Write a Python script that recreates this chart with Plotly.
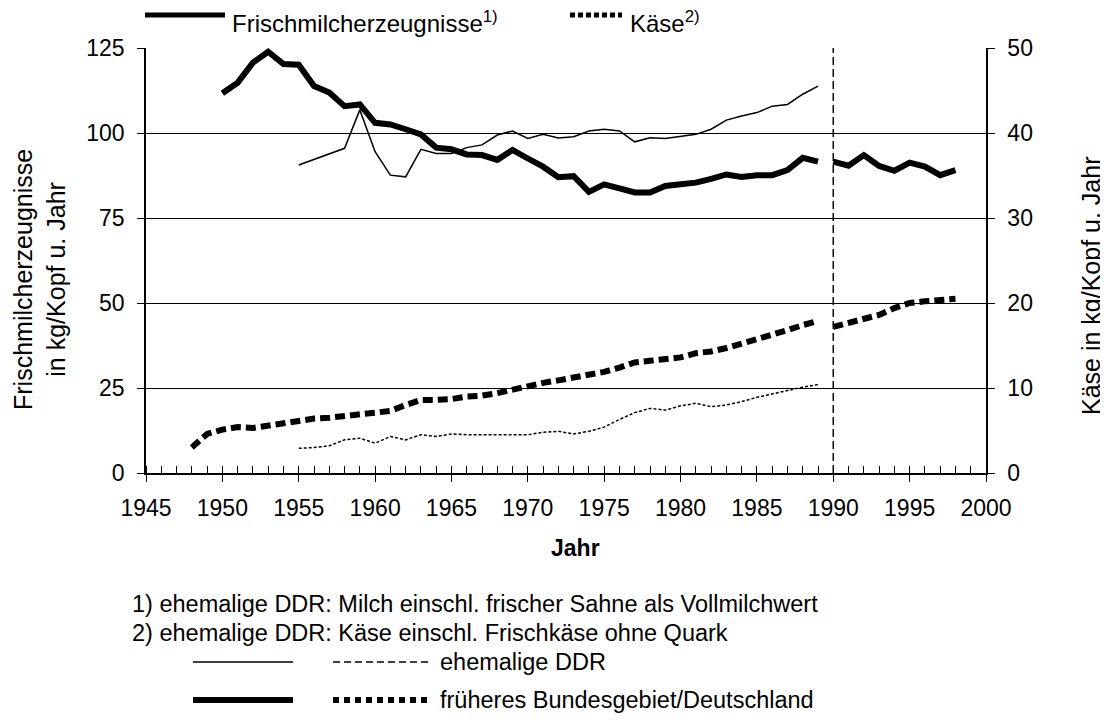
import plotly.graph_objects as go

# Frischmilcherzeugnisse, kg/Kopf u. Jahr
jahre_west_fm = list(range(1950, 1990))
west_fm = [111.7, 114.8, 120.7, 123.9, 120.3, 120.1, 113.8, 111.9, 107.9, 108.4,
           103.0, 102.5, 101.1, 99.6, 95.7, 95.2, 93.7, 93.5, 92.1, 95.0,
           92.5, 90.1, 87.0, 87.3, 82.7, 84.9, 83.7, 82.5, 82.5, 84.4,
           84.9, 85.4, 86.5, 87.8, 87.1, 87.6, 87.6, 89.1, 92.7, 91.6]
jahre_de_fm = list(range(1990, 1999))
de_fm = [91.6, 90.4, 93.5, 90.3, 88.9, 91.3, 90.1, 87.6, 89.1]
jahre_ddr_fm = [1955] + list(range(1958, 1990))
ddr_fm = [90.6, 95.5, 106.8, 94.5, 87.6, 87.1, 95.2, 94.0, 94.0, 95.7,
          96.5, 99.4, 100.6, 98.4, 99.6, 98.5, 98.9, 100.6, 101.1, 100.6,
          97.4, 98.6, 98.4, 98.9, 99.6, 101.1, 103.8, 105.0, 106.0, 107.9,
          108.4, 111.4, 113.8]

# Kaese, kg/Kopf u. Jahr
jahre_west_k = list(range(1948, 1990))
west_k = [3.0, 4.6, 5.1, 5.4, 5.3, 5.6, 5.9, 6.1, 6.4, 6.5,
          6.7, 6.9, 7.1, 7.3, 8.0, 8.6, 8.6, 8.7, 9.0, 9.1,
          9.4, 9.8, 10.3, 10.6, 10.9, 11.2, 11.6, 11.9, 12.4, 13.0,
          13.2, 13.4, 13.6, 14.1, 14.3, 14.7, 15.2, 15.7, 16.2, 16.8,
          17.4, 17.9]
jahre_de_k = list(range(1990, 1999))
de_k = [17.2, 17.7, 18.1, 18.6, 19.4, 20.0, 20.2, 20.4, 20.5]
jahre_ddr_k = list(range(1955, 1990))
ddr_k = [2.9, 3.0, 3.2, 3.9, 4.1, 3.5, 4.3, 3.9, 4.5, 4.3,
         4.6, 4.5, 4.5, 4.5, 4.5, 4.5, 4.8, 4.9, 4.6, 4.9,
         5.4, 6.3, 7.1, 7.6, 7.4, 7.9, 8.2, 7.8, 8.0, 8.4,
         8.9, 9.3, 9.7, 10.1, 10.4]

FONT = "Liberation Sans, Arial, sans-serif"
FS_TICK = 23
FS_TEXT = 24
FS_TITLE = 25

# plot area in page pixels: x 146..986, y 48..473 (page has an 8px body margin)
def px(x):
    return (x - 146) / 840

def py(y):
    return (473 - y) / 425

fig = go.Figure()
fig.add_trace(go.Scatter(x=jahre_ddr_fm, y=ddr_fm, mode='lines',
                         line=dict(color='black', width=1.5)))
fig.add_trace(go.Scatter(x=jahre_west_fm, y=west_fm, mode='lines',
                         line=dict(color='black', width=6)))
fig.add_trace(go.Scatter(x=jahre_de_fm, y=de_fm, mode='lines',
                         line=dict(color='black', width=6)))
fig.add_trace(go.Scatter(x=jahre_ddr_k, y=ddr_k, mode='lines', yaxis='y2',
                         line=dict(color='black', width=1.5, dash='3px,2px')))
fig.add_trace(go.Scatter(x=jahre_west_k, y=west_k, mode='lines', yaxis='y2',
                         line=dict(color='black', width=6, dash='10px,5px')))
fig.add_trace(go.Scatter(x=jahre_de_k, y=de_k, mode='lines', yaxis='y2',
                         line=dict(color='black', width=6, dash='10px,5px')))
# empty traces so the inner-tick axes get drawn
fig.add_trace(go.Scatter(x=[], y=[], xaxis='x2', yaxis='y3', hoverinfo='skip'))
fig.add_trace(go.Scatter(x=[], y=[], xaxis='x2', yaxis='y4', hoverinfo='skip'))

tickfont = dict(family=FONT, size=FS_TICK, color='black')
fig.update_layout(
    width=1100, height=715,
    margin=dict(l=138, r=122, t=40, b=250),
    paper_bgcolor='white', plot_bgcolor='white',
    showlegend=False,
    font=dict(family=FONT, size=FS_TEXT, color='black'),
    xaxis=dict(range=[1945, 2000], tick0=1945, dtick=5, ticks='outside', ticklen=7,
               tickcolor='black', showline=True, linecolor='black', linewidth=1.5,
               showgrid=False, zeroline=False, tickfont=tickfont, ticklabelstandoff=7,
               minor=dict(ticks='inside', ticklen=7, dtick=1, tickcolor='black',
                          showgrid=False)),
    xaxis2=dict(range=[1945, 2000], tick0=1945, dtick=5, ticks='inside', ticklen=7,
                tickcolor='black', overlaying='x', showticklabels=False,
                showline=False, showgrid=False, zeroline=False),
    yaxis=dict(range=[0, 125], dtick=25, ticks='outside', ticklen=7, tickcolor='black',
               showline=True, linecolor='black', linewidth=1.5, showgrid=True,
               gridcolor='black', gridwidth=1, zeroline=False, tickfont=tickfont,
               ticklabelstandoff=8),
    yaxis2=dict(range=[0, 50], dtick=10, ticks='outside', ticklen=7, tickcolor='black',
                overlaying='y', side='right', anchor='x', showline=True,
                linecolor='black', linewidth=1.5, showgrid=False, zeroline=False,
                tickfont=tickfont, ticklabelstandoff=8),
    yaxis3=dict(range=[0, 125], dtick=25, ticks='inside', ticklen=7, tickcolor='black',
                overlaying='y', side='left', showticklabels=False, showline=False,
                showgrid=False, zeroline=False),
    yaxis4=dict(range=[0, 50], dtick=10, ticks='inside', ticklen=7, tickcolor='black',
                overlaying='y', side='right', showticklabels=False, showline=False,
                showgrid=False, zeroline=False),
)

# Wiedervereinigung
fig.add_shape(type='line', xref='x', yref='paper', x0=1990, x1=1990, y0=0, y1=1,
              line=dict(color='black', width=1.5, dash='8px,4px'))

# top legend
fig.add_shape(type='line', xref='paper', yref='paper', x0=px(145), x1=px(225),
              y0=py(15), y1=py(15), line=dict(color='black', width=5))
fig.add_shape(type='line', xref='paper', yref='paper', x0=px(570), x1=px(622),
              y0=py(15), y1=py(15), line=dict(color='black', width=5, dash='5px,3px'))

# bottom legend
fig.add_shape(type='line', xref='paper', yref='paper', x0=px(193), x1=px(293),
              y0=py(662), y1=py(662), line=dict(color='black', width=1.5))
fig.add_shape(type='line', xref='paper', yref='paper', x0=px(333), x1=px(430),
              y0=py(662), y1=py(662), line=dict(color='black', width=1.5, dash='7px,4px'))
fig.add_shape(type='line', xref='paper', yref='paper', x0=px(193), x1=px(293),
              y0=py(700), y1=py(700), line=dict(color='black', width=6))
fig.add_shape(type='line', xref='paper', yref='paper', x0=px(333), x1=px(430),
              y0=py(700), y1=py(700), line=dict(color='black', width=6, dash='6px,5px'))

def note(text, x, y, anchor='left', angle=0, bold=False, size=FS_TEXT):
    if bold:
        text = '<b>' + text + '</b>'
    fig.add_annotation(text=text, xref='paper', yref='paper', x=px(x), y=py(y),
                       xanchor=anchor, yanchor='middle', showarrow=False,
                       textangle=angle, font=dict(family=FONT, size=size, color='black'))

note('Frischmilcherzeugnisse<sup>1)</sup>', 230, 22)
note('Käse<sup>2)</sup>', 628, 22)
note('Jahr', 575, 548, anchor='center', bold=True, size=FS_TICK)
note('Frischmilcherzeugnisse<br>in kg/Kopf u. Jahr', 39, 280, anchor='center', angle=-90,
     size=FS_TITLE)
note('Käse in kg/Kopf u. Jahr', 1091, 286, anchor='center', angle=-90, size=FS_TITLE)
note('1) ehemalige DDR: Milch einschl. frischer Sahne als Vollmilchwert', 130, 604,
     size=23.5)
note('2) ehemalige DDR: Käse einschl. Frischkäse ohne Quark', 130, 633, size=23.5)
note('ehemalige DDR', 438, 662, size=23.5)
note('früheres Bundesgebiet/Deutschland', 438, 700, size=23.5)

fig.write_html("out.html")
